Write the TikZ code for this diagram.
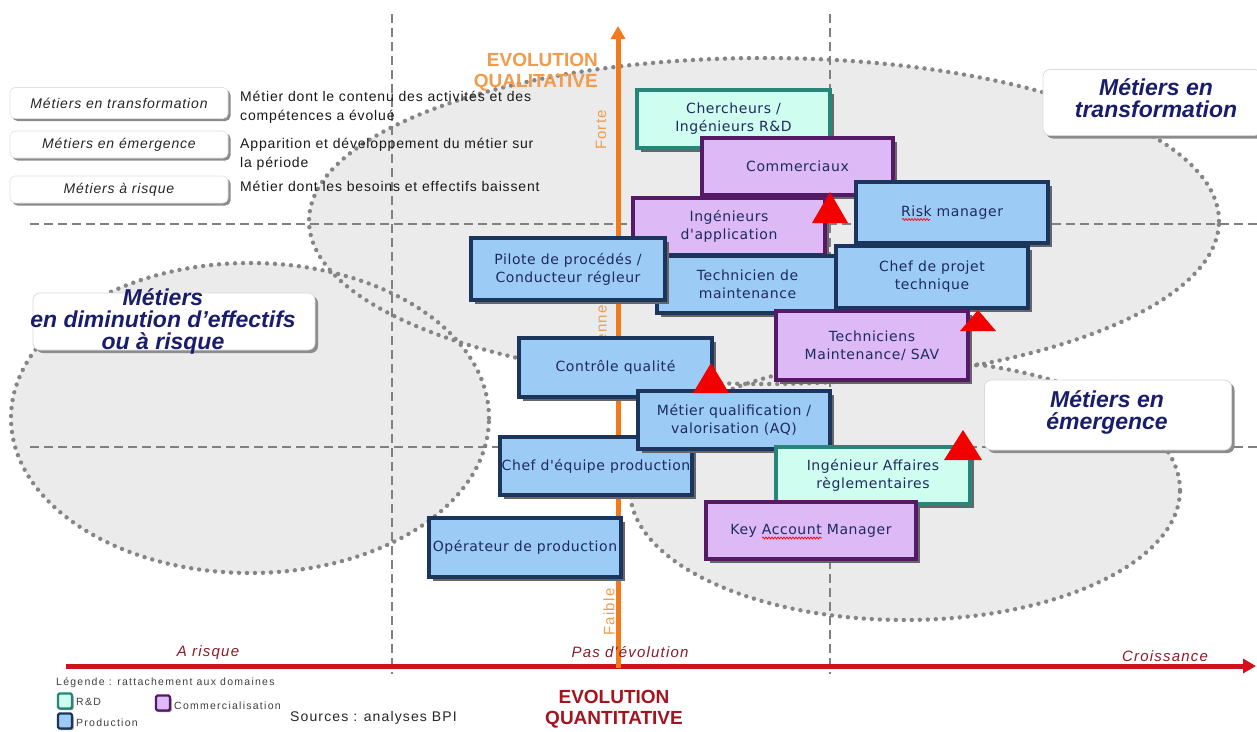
\documentclass[tikz,border=0pt]{standalone}
\usepackage{fontspec}
\setmainfont{Liberation Sans}
\newfontfamily\boxfont[LetterSpace=4]{DejaVu Sans}
\newfontfamily\widesans[LetterSpace=6]{Liberation Sans}
\newfontfamily\axisfont[LetterSpace=8]{Liberation Sans}
\newfontfamily\tinysans[LetterSpace=12]{Liberation Sans}
\usetikzlibrary{arrows.meta,shadows,decorations.pathmorphing}

\definecolor{zonefill}{HTML}{EBEBEB}
\definecolor{zonedots}{HTML}{858585}
\definecolor{gridgray}{HTML}{808080}
\definecolor{prodfill}{HTML}{9CCBF6}
\definecolor{prodline}{HTML}{1C355C}
\definecolor{rndfill}{HTML}{CFFDF0}
\definecolor{rndline}{HTML}{27857A}
\definecolor{commfill}{HTML}{DDB9F6}
\definecolor{commline}{HTML}{551A66}
\definecolor{jobtext}{HTML}{1E2B5E}
\definecolor{labelnavy}{HTML}{1A1D6B}
\definecolor{qualorange}{HTML}{F07A1C}
\definecolor{qualtext}{HTML}{F29B4C}
\definecolor{quantred}{HTML}{D0121C}
\definecolor{quanttext}{HTML}{A3141F}
\definecolor{axislabel}{HTML}{8E1B2A}
\definecolor{warnred}{HTML}{F20000}

\tikzset{
  zoneline/.style={draw=zonedots, line width=4.4pt, line cap=round, dash pattern=on 0pt off 8pt},
  gridline/.style={draw=gridgray, line width=1.3pt, dash pattern=on 9pt off 5pt},
  job/.style={rectangle, inner sep=0pt, align=center, line width=3.2pt,
    font=\boxfont\fontsize{14}{18}\selectfont, text=jobtext,
    drop shadow={shadow xshift=3.5pt, shadow yshift=-3.5pt, fill=black!60, opacity=1}},
  prod/.style={job, fill=prodfill, draw=prodline},
  rnd/.style={job, fill=rndfill, draw=rndline},
  comm/.style={job, fill=commfill, draw=commline},
  legendbox/.style={rectangle, rounded corners=5pt, fill=white, draw=black!12, line width=0.6pt,
    drop shadow={shadow xshift=2.5pt, shadow yshift=-2.5pt, fill=black!45, opacity=1},
    font=\widesans\itshape\fontsize{14}{16}\selectfont, text=black!85, inner sep=0pt},
  desc/.style={align=left, font=\widesans\fontsize{14}{19}\selectfont, inner sep=0pt, text=black!90},
  labelbox/.style={rectangle, rounded corners=7pt, fill=white, draw=black!15, line width=0.7pt,
    drop shadow={shadow xshift=3pt, shadow yshift=-3pt, fill=black!45, opacity=1}, inner sep=0pt},
  labeltext/.style={font=\bfseries\itshape\fontsize{23}{22}\selectfont, text=labelnavy, align=center, inner sep=0pt},
  axislbl/.style={font=\axisfont\itshape\fontsize{15}{15}\selectfont, text=axislabel, inner sep=0pt},
  vlbl/.style={font=\axisfont\fontsize{15}{15}\selectfont, text=qualtext, inner sep=0pt, rotate=90},
  titlelbl/.style={font=\bfseries\fontsize{19}{21}\selectfont, inner sep=0pt},
  swatch/.style={rectangle, minimum width=14pt, minimum height=15pt, line width=2.2pt, inner sep=0pt,
    rounded corners=1.5pt, drop shadow={shadow xshift=1.5pt, shadow yshift=-1.5pt, fill=black!45, opacity=1}},
  tinylbl/.style={font=\tinysans\fontsize{10.5}{11}\selectfont, text=black!75, inner sep=0pt},
  srclbl/.style={font=\axisfont\fontsize{14}{14}\selectfont, text=black!85, inner sep=0pt},
  squiggle/.style={draw=red, line width=0.7pt, decorate, decoration={snake, amplitude=1pt, segment length=3pt}},
}

\begin{document}
\begin{tikzpicture}[x=1pt,y=-1pt]
\useasboundingbox (0,0) rectangle (1257,731);
\fill[white] (0,0) rectangle (1257,731);

% gray zones
\fill[zonefill] (764,221) ellipse [x radius=455pt, y radius=163pt];
\fill[zonefill] (250,418) ellipse [x radius=239pt, y radius=155pt];
\fill[zonefill] (905,490) ellipse [x radius=275pt, y radius=130pt];
\draw[zoneline] (764,221) ellipse [x radius=455pt, y radius=163pt];
\draw[zoneline] (250,418) ellipse [x radius=239pt, y radius=155pt];
\draw[zoneline] (905,490) ellipse [x radius=275pt, y radius=130pt];

% dashed grid
\coordinate (v1top) at (392,14);  \coordinate (v1bot) at (392,674);
\coordinate (v2top) at (830,14);  \coordinate (v2bot) at (830,674);
\coordinate (h1l) at (30,224);    \coordinate (h1r) at (1257,224);
\coordinate (h2l) at (30,447);    \coordinate (h2r) at (1257,447);
\draw[gridline] (v1top) -- (v1bot);
\draw[gridline] (v2top) -- (v2bot);
\draw[gridline] (h1l) -- (h1r);
\draw[gridline] (h2l) -- (h2r);

% legend of the zones
\node[legendbox, minimum width=218pt, minimum height=31pt] (lgtrans) at (119,103) {Métiers en transformation};
\node[legendbox, minimum width=218pt, minimum height=27pt] (lgemer) at (119,144.5) {Métiers en émergence};
\node[legendbox, minimum width=218pt, minimum height=27pt] (lgrisk) at (119,189.5) {Métiers à risque};
\node[desc, anchor=west] (dtrans) at (240,107.5) {Métier dont le contenu des activités et des\\compétences a évolué};
\node[desc, anchor=west] (demer) at (240,154) {Apparition et développement du métier sur\\la période};
\node[desc, anchor=west] (drisk) at (240,186) {Métier dont les besoins et effectifs baissent};

% axes
\coordinate (xstart) at (66,666);  \coordinate (xend) at (1256,666);
\coordinate (ybot) at (618,668);   \coordinate (ytop) at (618,26);
\draw[quantred, line width=5pt, -{Triangle[length=13pt,width=14pt]}] (xstart) -- (xend);
\draw[qualorange, line width=5pt, -{Triangle[length=13pt,width=14pt]}] (ybot) -- (ytop);

\node[axislbl] (lrisk) at (208,653) {A risque};
\node[axislbl] (lnone) at (630,652) {Pas d'évolution};
\node[axislbl] (lgrow) at (1165,656) {Croissance};
\node[vlbl] (lforte) at (601,130) {Forte};
\node[vlbl] (lmoy) at (603,340) {Moyenne};
\node[vlbl] (lfaible) at (609,612) {Faible};

\node[titlelbl, text=qualtext, align=right, anchor=east] (qualt) at (598,72) {EVOLUTION\\QUALITATIVE};
\node[titlelbl, text=quanttext, align=center] (quantt) at (614,709) {EVOLUTION\\QUANTITATIVE};

% zone labels
\node[labelbox, minimum width=218pt, minimum height=66pt] (transbox) at (1152,102.5) {};
\node[labeltext] (transtext) at (1156,98) {Métiers en\\transformation};
\node[labelbox, minimum width=282pt, minimum height=57pt] (dimbox) at (174,321.5) {};
\node[labeltext] (dimtext) at (163,321) {Métiers\\en diminution d'effectifs\\ou à risque};
\node[labelbox, minimum width=247pt, minimum height=70pt] (emerbox) at (1108,415) {};
\node[labeltext] (emertext) at (1107,412.5) {Métiers en\\émergence};

% job boxes
\node[rnd, minimum width=193pt, minimum height=58pt] (chercheurs) at (733.5,119) {Chercheurs /\\Ingénieurs R\&D};
\node[comm, minimum width=191pt, minimum height=57pt] (commerciaux) at (797.5,166.5) {Commerciaux};
\node[prod, minimum width=192pt, minimum height=61pt] (risk) at (952,212.5) {Risk manager};
\node[comm, minimum width=192pt, minimum height=57pt] (ingapp) at (729,226.5) {Ingénieurs\\d'application};
\node[prod, minimum width=181pt, minimum height=57pt] (techmaint) at (747.5,284.5) {Technicien de\\maintenance};
\node[prod, minimum width=194pt, minimum height=62pt] (pilote) at (568,269) {Pilote de procédés /\\Conducteur régleur};
\node[prod, minimum width=192pt, minimum height=62pt] (chefprojet) at (932,277) {Chef de projet\\technique};
\node[comm, minimum width=192pt, minimum height=69pt] (techsav) at (872,345.5) {Techniciens\\Maintenance/ SAV};
\node[prod, minimum width=193pt, minimum height=59pt] (controle) at (615.5,367.5) {Contrôle qualité};
\node[prod, minimum width=192pt, minimum height=58pt] (chefequipe) at (596,466) {Chef d'équipe production};
\node[prod, minimum width=192pt, minimum height=58pt] (aq) at (734,420) {Métier qualification /\\valorisation (AQ)};
\node[rnd, minimum width=194pt, minimum height=57pt] (ingaff) at (873,475.5) {Ingénieur Affaires\\règlementaires};
\node[comm, minimum width=210pt, minimum height=57pt] (kam) at (811,530.5) {Key Account Manager};
\node[prod, minimum width=192pt, minimum height=59pt] (operateur) at (525,547.5) {Opérateur de production};

% spelling marks
\draw[squiggle] (902,219.5) -- (930,219.5);
\draw[squiggle] (762,538) -- (822,538);

% growth warnings
\fill[warnred] (812,223) -- (830,192) -- (848,223) -- cycle;
\fill[warnred] (960,331) -- (978,310) -- (996,331) -- cycle;
\fill[warnred] (693,393) -- (711,363) -- (729,393) -- cycle;
\fill[warnred] (944,460) -- (963,430) -- (982,460) -- cycle;

% domain legend
\node[tinylbl, anchor=west] (legtitle) at (56,683) {Légende : rattachement aux domaines};
\node[swatch, fill=rndfill, draw=rndline] (swrnd) at (65,701) {};
\node[tinylbl, anchor=west] (lrnd) at (76,702) {R\&D};
\node[swatch, fill=prodfill, draw=prodline] (swprod) at (65,721) {};
\node[tinylbl, anchor=west] (lprod) at (76,723) {Production};
\node[swatch, fill=commfill, draw=commline] (swcomm) at (163,703) {};
\node[tinylbl, anchor=west] (lcomm) at (174,706) {Commercialisation};
\node[srclbl, anchor=west] (sources) at (290,718) {Sources : analyses BPI};
\end{tikzpicture}
\end{document}
